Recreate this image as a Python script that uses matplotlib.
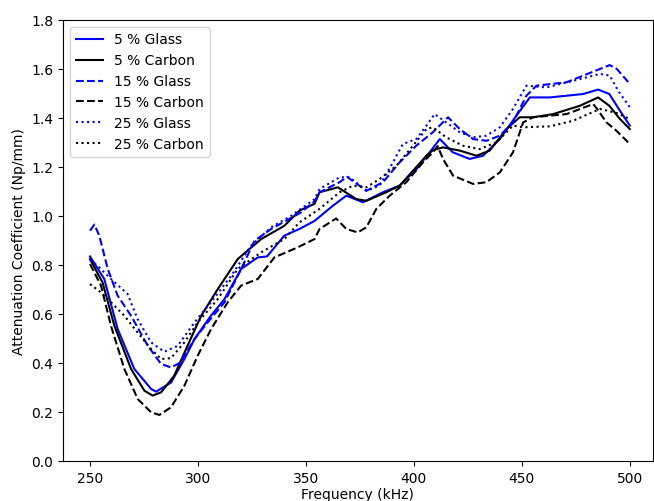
import matplotlib
matplotlib.use("Agg")
import matplotlib.pyplot as plt

# 5 % Glass
f_g5 = [250, 256.6, 262.8, 270.5, 278.3, 280.6, 287.5, 293.7, 298.4, 306, 312.3, 320, 327.7,
        332, 340, 347, 354, 362.5, 368.7, 376.4, 385.7, 393.4, 401.1, 407.3, 412, 418, 425.8,
        432, 439.8, 447.5, 453.7, 463, 478.4, 485.3, 490.5, 495.4, 500]
v_g5 = [0.835, 0.743, 0.539, 0.376, 0.294, 0.283, 0.32, 0.416, 0.498, 0.593, 0.661, 0.784, 0.831,
        0.835, 0.92, 0.947, 0.98, 1.042, 1.083, 1.056, 1.097, 1.124, 1.19, 1.26, 1.314, 1.26, 1.233,
        1.246, 1.314, 1.41, 1.484, 1.484, 1.498, 1.516, 1.498, 1.43, 1.369]

# 5 % Carbon
f_c5 = [250, 255.8, 261.3, 269, 275.2, 279, 282.9, 289, 295.2, 301.5, 309.2, 318.4, 329.3, 340,
        347, 354, 356.3, 364.8, 373.3, 378, 387.2, 393.4, 398.6, 405.8, 409, 413.5, 421.2, 429,
        435.1, 442.9, 449, 455.2, 464.5, 476.9, 485.3, 490.5, 495.4, 500]
v_c5 = [0.824, 0.729, 0.552, 0.376, 0.287, 0.267, 0.28, 0.348, 0.471, 0.593, 0.702, 0.824, 0.906, 0.96,
        1.022, 1.05, 1.097, 1.117, 1.069, 1.062, 1.097, 1.124, 1.175, 1.246, 1.27, 1.28, 1.267, 1.246,
        1.267, 1.355, 1.403, 1.403, 1.416, 1.45, 1.484, 1.45, 1.396, 1.355]

# 15 % Glass
f_g15 = [250, 252, 254.3, 258.2, 262.8, 269, 276.7, 282.9, 287.5, 291.6, 298.4, 304.5, 312.3, 320,
         326.2, 333.9, 347.8, 354, 356.3, 365.6, 369, 378, 385.7, 393.4, 401.1, 408.8, 415.8, 421.2,
         427.4, 433.6, 439.8, 445.9, 452.1, 456.8, 470.7, 478.4, 490.7, 494, 500]
v_g15 = [0.94, 0.965, 0.92, 0.784, 0.675, 0.593, 0.471, 0.396, 0.382, 0.40, 0.498, 0.566, 0.648, 0.784,
         0.899, 0.947, 1.015, 1.06, 1.097, 1.138, 1.16, 1.103, 1.138, 1.219, 1.287, 1.342, 1.403, 1.355,
         1.314, 1.307, 1.328, 1.382, 1.491, 1.532, 1.546, 1.573, 1.616, 1.6, 1.539]

# 15 % Carbon
f_c15 = [250, 255.1, 259.7, 265.9, 272.1, 278.3, 282.1, 287.5, 293.7, 299.9, 306.1, 313.8, 320, 327.7,
         335.4, 346.2, 354, 356.3, 364, 368.7, 374, 378, 382.6, 388.8, 396.5, 404.2, 408.8, 411, 413.5,
         418.1, 427.4, 433.6, 439.8, 445.9, 450.6, 455.2, 470.7, 483, 484.6, 489.2, 493.8, 500]
v_c15 = [0.804, 0.716, 0.552, 0.376, 0.253, 0.199, 0.188, 0.219, 0.307, 0.43, 0.539, 0.648, 0.716, 0.743,
         0.831, 0.872, 0.906, 0.947, 0.99, 0.947, 0.933, 0.954, 1.029, 1.083, 1.138, 1.219, 1.26, 1.285, 1.233,
         1.165, 1.131, 1.138, 1.178, 1.26, 1.382, 1.403, 1.416, 1.457, 1.44, 1.382, 1.348, 1.294]

# 25 % Glass
f_g25 = [250, 253.5, 259.7, 267.4, 272, 278.3, 284.4, 290.6, 298.4, 306, 315.4, 324.6, 333.9, 343.2,
         354, 356.3, 365.6, 370.3, 378, 384.1, 390.3, 394.9, 401.1, 405.8, 409.6, 415, 421.2, 427.4,
         433.6, 439.8, 445.9, 452.1, 461.4, 473.8, 486.2, 490.7, 494.6, 500]
v_g25 = [0.82, 0.797, 0.743, 0.682, 0.58, 0.484, 0.446, 0.47, 0.566, 0.648, 0.756, 0.879, 0.954, 1.001,
         1.069, 1.11, 1.158, 1.158, 1.103, 1.124, 1.219, 1.294, 1.314, 1.369, 1.416, 1.382, 1.342, 1.321,
         1.328, 1.362, 1.437, 1.532, 1.525, 1.552, 1.58, 1.573, 1.511, 1.444]

# 25 % Carbon
f_c25 = [250, 255.1, 259.7, 265.9, 272, 278.3, 282.9, 287.5, 293.7, 299.9, 309.2, 318.4, 329.3, 340,
         347, 356.3, 365.6, 371.8, 378, 384.1, 391.9, 399.6, 405.8, 408.8, 415, 422.7, 430.5, 438.2,
         445.9, 450.6, 463, 473.8, 486.2, 494, 500]
v_c25 = [0.722, 0.688, 0.648, 0.593, 0.525, 0.457, 0.416, 0.42, 0.484, 0.566, 0.661, 0.784, 0.852, 0.906,
         0.974, 1.029, 1.097, 1.124, 1.117, 1.151, 1.205, 1.287, 1.355, 1.362, 1.321, 1.287, 1.273, 1.301,
         1.369, 1.362, 1.366, 1.389, 1.437, 1.42, 1.396]

fig = plt.figure(figsize=(6.54, 5.02), dpi=100)
ax = fig.add_axes([63 / 654, 40 / 502, 589.5 / 654, 441 / 502])

ax.plot(f_g5, v_g5, color='blue', linestyle='-', label='5 % Glass')
ax.plot(f_c5, v_c5, color='black', linestyle='-', label='5 % Carbon')
ax.plot(f_g15, v_g15, color='blue', linestyle='--', label='15 % Glass')
ax.plot(f_c15, v_c15, color='black', linestyle='--', label='15 % Carbon')
ax.plot(f_g25, v_g25, color='blue', linestyle=':', label='25 % Glass')
ax.plot(f_c25, v_c25, color='black', linestyle=':', label='25 % Carbon')

ax.set_xlim(237.5, 510.5)
ax.set_ylim(0, 1.8)
ax.set_xticks([250, 300, 350, 400, 450, 500])
ax.set_xlabel('Frequency (kHz)', labelpad=1.5)
ax.set_ylabel('Attenuation Coefficient (Np/mm)')
ax.legend(loc='upper left')

fig.savefig('out.png', dpi=100)
